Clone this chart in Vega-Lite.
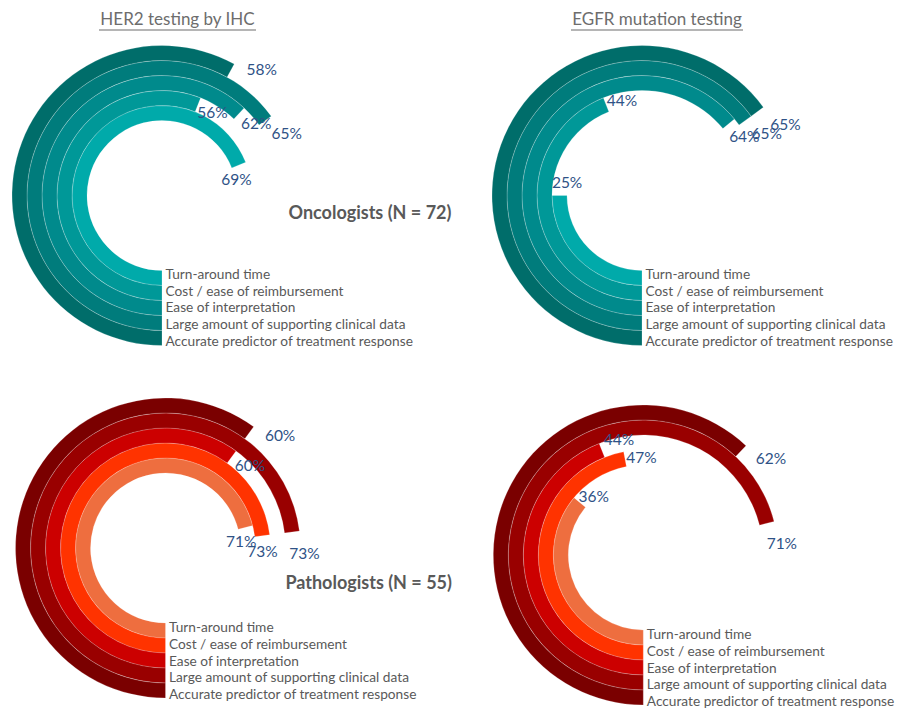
{
  "$schema": "https://vega.github.io/schema/vega-lite/v6.json",
  "width": 906,
  "height": 710,
  "padding": 0,
  "autosize": {"type": "none"},
  "background": "white",
  "config": {"view": {"stroke": null}, "font": "Lato"},
  "datasets": {
    "main": [
      {"group": "Oncologists", "test": "HER2", "category": "Turn-around time", "value": 0.69},
      {"group": "Oncologists", "test": "HER2", "category": "Cost / ease of reimbursement", "value": 0.56},
      {"group": "Oncologists", "test": "HER2", "category": "Ease of interpretation", "value": 0.62},
      {"group": "Oncologists", "test": "HER2", "category": "Large amount of supporting clinical data", "value": 0.65},
      {"group": "Oncologists", "test": "HER2", "category": "Accurate predictor of treatment response", "value": 0.58},
      {"group": "Oncologists", "test": "EGFR", "category": "Turn-around time", "value": 0.25},
      {"group": "Oncologists", "test": "EGFR", "category": "Cost / ease of reimbursement", "value": 0.44},
      {"group": "Oncologists", "test": "EGFR", "category": "Ease of interpretation", "value": 0.64},
      {"group": "Oncologists", "test": "EGFR", "category": "Large amount of supporting clinical data", "value": 0.65},
      {"group": "Oncologists", "test": "EGFR", "category": "Accurate predictor of treatment response", "value": 0.65},
      {"group": "Pathologists", "test": "HER2", "category": "Turn-around time", "value": 0.71},
      {"group": "Pathologists", "test": "HER2", "category": "Cost / ease of reimbursement", "value": 0.73},
      {"group": "Pathologists", "test": "HER2", "category": "Ease of interpretation", "value": 0.60},
      {"group": "Pathologists", "test": "HER2", "category": "Large amount of supporting clinical data", "value": 0.73},
      {"group": "Pathologists", "test": "HER2", "category": "Accurate predictor of treatment response", "value": 0.60},
      {"group": "Pathologists", "test": "EGFR", "category": "Turn-around time", "value": 0.36},
      {"group": "Pathologists", "test": "EGFR", "category": "Cost / ease of reimbursement", "value": 0.47},
      {"group": "Pathologists", "test": "EGFR", "category": "Ease of interpretation", "value": 0.44},
      {"group": "Pathologists", "test": "EGFR", "category": "Large amount of supporting clinical data", "value": 0.71},
      {"group": "Pathologists", "test": "EGFR", "category": "Accurate predictor of treatment response", "value": 0.62}
    ],
    "titles": [
      {"test": "HER2", "title": "HER2 testing by IHC"},
      {"test": "EGFR", "title": "EGFR mutation testing"}
    ],
    "groups": [
      {"group": "Oncologists", "label": "Oncologists (N = 72)"},
      {"group": "Pathologists", "label": "Pathologists (N = 55)"}
    ]
  },
  "resolve": {"scale": {"x": "independent", "y": "independent", "theta": "independent", "radius": "independent", "color": "independent"}},
  "layer": [
    {
      "data": {"name": "main"},
      "transform": [{"filter": "datum.group === 'Oncologists'"}],
      "mark": {"type": "arc", "radius2Offset": -15, "stroke": "#ffffff", "strokeWidth": 0.6, "strokeOpacity": 0.35},
      "encoding": {
        "x": {"field": "test", "type": "nominal", "scale": {"type": "point", "domain": ["HER2", "EGFR"], "range": [162, 642], "padding": 0}, "axis": null},
        "y": {"field": "test", "type": "nominal", "scale": {"type": "point", "domain": ["HER2", "EGFR"], "range": [195.5, 195.5], "padding": 0}, "axis": null},
        "theta": {"field": "value", "type": "quantitative", "stack": null, "scale": {"domain": [0, 1], "range": [3.14159265, 9.42477796]}},
        "theta2": {"datum": 0},
        "radius": {"field": "category", "type": "ordinal", "scale": {"type": "point", "domain": ["Turn-around time", "Cost / ease of reimbursement", "Ease of interpretation", "Large amount of supporting clinical data", "Accurate predictor of treatment response"], "range": [90, 150], "padding": 0}},
        "radius2": {"field": "category"},
        "color": {"field": "category", "type": "nominal", "legend": null, "scale": {"domain": ["Turn-around time", "Cost / ease of reimbursement", "Ease of interpretation", "Large amount of supporting clinical data", "Accurate predictor of treatment response"], "range": ["#00AAAA", "#009898", "#008A8C", "#007C7C", "#006D6A"]}}
      }
    },
    {
      "data": {"name": "main"},
      "transform": [{"filter": "datum.group === 'Pathologists'"}],
      "mark": {"type": "arc", "radius2Offset": -15, "stroke": "#ffffff", "strokeWidth": 0.6, "strokeOpacity": 0.35},
      "encoding": {
        "x": {"field": "test", "type": "nominal", "scale": {"type": "point", "domain": ["HER2", "EGFR"], "range": [165.5, 643.3], "padding": 0}, "axis": null},
        "y": {"field": "test", "type": "nominal", "scale": {"type": "point", "domain": ["HER2", "EGFR"], "range": [548, 555], "padding": 0}, "axis": null},
        "theta": {"field": "value", "type": "quantitative", "stack": null, "scale": {"domain": [0, 1], "range": [3.14159265, 9.42477796]}},
        "theta2": {"datum": 0},
        "radius": {"field": "category", "type": "ordinal", "scale": {"type": "point", "domain": ["Turn-around time", "Cost / ease of reimbursement", "Ease of interpretation", "Large amount of supporting clinical data", "Accurate predictor of treatment response"], "range": [90, 150], "padding": 0}},
        "radius2": {"field": "category"},
        "color": {"field": "category", "type": "nominal", "legend": null, "scale": {"domain": ["Turn-around time", "Cost / ease of reimbursement", "Ease of interpretation", "Large amount of supporting clinical data", "Accurate predictor of treatment response"], "range": ["#EE6E3F", "#FF3300", "#CC0000", "#990000", "#7A0000"]}}
      }
    },
    {
      "data": {"name": "main"},
      "transform": [{"filter": "datum.group === 'Oncologists'"}],
      "mark": {"type": "text", "align": "left", "baseline": "middle", "dx": 3.5, "fontSize": 13.7, "color": "#595959", "font": "Lato"},
      "encoding": {
        "x": {"field": "test", "type": "nominal", "scale": {"type": "point", "domain": ["HER2", "EGFR"], "range": [162, 642], "padding": 0}, "axis": null},
        "y": {"field": "test", "type": "nominal", "scale": {"type": "point", "domain": ["HER2", "EGFR"], "range": [195.5, 195.5], "padding": 0}, "axis": null},
        "theta": {"datum": 0, "type": "quantitative", "scale": {"domain": [0, 1], "range": [3.14159265, 9.42477796]}},
        "radius": {"field": "category", "type": "ordinal", "scale": {"type": "point", "domain": ["Turn-around time", "Cost / ease of reimbursement", "Ease of interpretation", "Large amount of supporting clinical data", "Accurate predictor of treatment response"], "range": [79.5, 146.3], "padding": 0}},
        "text": {"field": "category"}
      }
    },
    {
      "data": {"name": "main"},
      "transform": [{"filter": "datum.group === 'Pathologists'"}],
      "mark": {"type": "text", "align": "left", "baseline": "middle", "dx": 3.5, "fontSize": 13.7, "color": "#595959", "font": "Lato"},
      "encoding": {
        "x": {"field": "test", "type": "nominal", "scale": {"type": "point", "domain": ["HER2", "EGFR"], "range": [165.5, 643.3], "padding": 0}, "axis": null},
        "y": {"field": "test", "type": "nominal", "scale": {"type": "point", "domain": ["HER2", "EGFR"], "range": [548, 555], "padding": 0}, "axis": null},
        "theta": {"datum": 0, "type": "quantitative", "scale": {"domain": [0, 1], "range": [3.14159265, 9.42477796]}},
        "radius": {"field": "category", "type": "ordinal", "scale": {"type": "point", "domain": ["Turn-around time", "Cost / ease of reimbursement", "Ease of interpretation", "Large amount of supporting clinical data", "Accurate predictor of treatment response"], "range": [79.8, 147.2], "padding": 0}},
        "text": {"field": "category"}
      }
    },
    {
      "data": {"name": "main"},
      "transform": [{"filter": "datum.group === 'Oncologists'"}],
      "mark": {"type": "text", "align": "center", "baseline": "middle", "fontSize": 15.5, "color": "#2F5286", "font": "Lato", "thetaOffset": 0.17},
      "encoding": {
        "x": {"field": "test", "type": "nominal", "scale": {"type": "point", "domain": ["HER2", "EGFR"], "range": [162, 642], "padding": 0}, "axis": null},
        "y": {"field": "test", "type": "nominal", "scale": {"type": "point", "domain": ["HER2", "EGFR"], "range": [195.5, 195.5], "padding": 0}, "axis": null},
        "theta": {"field": "value", "type": "quantitative", "stack": null, "scale": {"domain": [0, 1], "range": [3.14159265, 9.42477796]}},
        "radius": {"field": "category", "type": "ordinal", "scale": {"type": "point", "domain": ["Turn-around time", "Cost / ease of reimbursement", "Ease of interpretation", "Large amount of supporting clinical data", "Accurate predictor of treatment response"], "range": [76, 160], "padding": 0}},
        "text": {"field": "value", "type": "quantitative", "format": ".0%"}
      }
    },
    {
      "data": {"name": "main"},
      "transform": [{"filter": "datum.group === 'Pathologists'"}],
      "mark": {"type": "text", "align": "center", "baseline": "middle", "fontSize": 15.5, "color": "#2F5286", "font": "Lato", "thetaOffset": 0.17},
      "encoding": {
        "x": {"field": "test", "type": "nominal", "scale": {"type": "point", "domain": ["HER2", "EGFR"], "range": [165.5, 643.3], "padding": 0}, "axis": null},
        "y": {"field": "test", "type": "nominal", "scale": {"type": "point", "domain": ["HER2", "EGFR"], "range": [548, 555], "padding": 0}, "axis": null},
        "theta": {"field": "value", "type": "quantitative", "stack": null, "scale": {"domain": [0, 1], "range": [3.14159265, 9.42477796]}},
        "radius": {"field": "category", "type": "ordinal", "scale": {"type": "point", "domain": ["Turn-around time", "Cost / ease of reimbursement", "Ease of interpretation", "Large amount of supporting clinical data", "Accurate predictor of treatment response"], "range": [76, 160], "padding": 0}},
        "text": {"field": "value", "type": "quantitative", "format": ".0%"}
      }
    },
    {
      "data": {"name": "titles"},
      "mark": {"type": "text", "align": "center", "baseline": "middle", "fontSize": 17, "color": "#6D6D6D", "font": "Lato"},
      "encoding": {
        "x": {"field": "test", "type": "nominal", "scale": {"type": "point", "domain": ["HER2", "EGFR"], "range": [177.5, 657], "padding": 0}, "axis": null},
        "y": {"field": "test", "type": "nominal", "scale": {"type": "point", "domain": ["HER2", "EGFR"], "range": [20, 20], "padding": 0}, "axis": null},
        "text": {"field": "title"}
      }
    },
    {
      "data": {"name": "titles"},
      "transform": [{"filter": "datum.test === 'HER2'"}],
      "mark": {"type": "rule", "color": "#6D6D6D", "strokeWidth": 1.2, "xOffset": -78.5, "x2Offset": 78.5},
      "encoding": {
        "x": {"field": "test", "type": "nominal", "scale": {"type": "point", "domain": ["HER2", "EGFR"], "range": [177.5, 657], "padding": 0}, "axis": null},
        "x2": {"field": "test"},
        "y": {"field": "test", "type": "nominal", "scale": {"type": "point", "domain": ["HER2", "EGFR"], "range": [30, 30], "padding": 0}, "axis": null}
      }
    },
    {
      "data": {"name": "titles"},
      "transform": [{"filter": "datum.test === 'EGFR'"}],
      "mark": {"type": "rule", "color": "#6D6D6D", "strokeWidth": 1.2, "xOffset": -86, "x2Offset": 86},
      "encoding": {
        "x": {"field": "test", "type": "nominal", "scale": {"type": "point", "domain": ["HER2", "EGFR"], "range": [177.5, 657], "padding": 0}, "axis": null},
        "x2": {"field": "test"},
        "y": {"field": "test", "type": "nominal", "scale": {"type": "point", "domain": ["HER2", "EGFR"], "range": [30, 30], "padding": 0}, "axis": null}
      }
    },
    {
      "data": {"name": "groups"},
      "mark": {"type": "text", "align": "center", "baseline": "middle", "fontSize": 18, "fontWeight": "bold", "color": "#595959", "font": "Lato"},
      "encoding": {
        "x": {"field": "group", "type": "nominal", "scale": {"type": "point", "domain": ["Oncologists", "Pathologists"], "range": [370, 368.7], "padding": 0}, "axis": null},
        "y": {"field": "group", "type": "nominal", "scale": {"type": "point", "domain": ["Oncologists", "Pathologists"], "range": [214, 584], "padding": 0}, "axis": null},
        "text": {"field": "label"}
      }
    }
  ]
}
